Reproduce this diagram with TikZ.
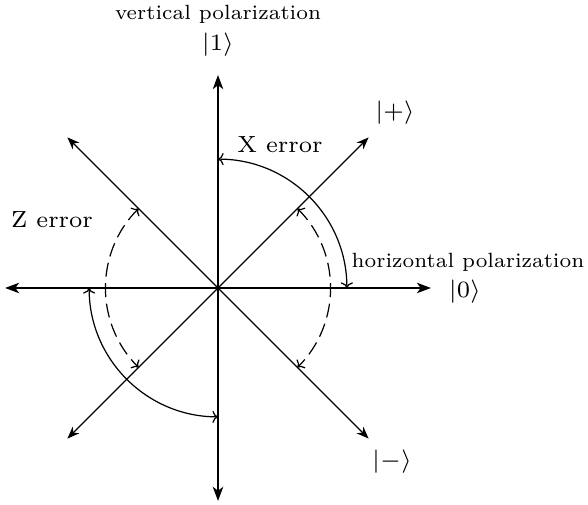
\documentclass[tikz,border=0pt]{standalone}
\usetikzlibrary{arrows.meta}
\begin{document}
\begin{tikzpicture}[
  axis/.style={line width=1.3pt, -{Stealth[length=7.5pt,width=5.5pt,inset=2pt]}},
  diag/.style={line width=0.7pt, -{Stealth[length=6.5pt,width=5pt,inset=2pt]}},
  turn/.style={line width=0.65pt, {To[length=3pt,width=6.5pt]}-{To[length=3pt,width=6.5pt]}},
  dturn/.style={turn, dash pattern=on 7.5pt off 3.5pt},
  lbl/.style={font=\scriptsize, scale=1.786, inner sep=0pt},
  pol/.style={font=\scriptsize, scale=1.57, inner sep=0pt}
]
\useasboundingbox (-4.094,-4.075) rectangle (6.948,5.408);
\coordinate (O) at (0,0);
\coordinate (R) at (0:4);
\coordinate (L) at (180:4);
\coordinate (U) at (90:4);
\coordinate (D) at (270:4);
\coordinate (UR) at (45:4);
\coordinate (UL) at (135:4);
\coordinate (DL) at (225:4);
\coordinate (DR) at (315:4);
% diagonals
\draw[diag] (O) -- (UR);
\draw[diag] (O) -- (UL);
\draw[diag] (O) -- (DL);
\draw[diag] (O) -- (DR);
% axes
\draw[axis] (O) -- (R);
\draw[axis] (O) -- (L);
\draw[axis] (O) -- (U);
\draw[axis] (O) -- (D);
% arcs
\coordinate (xa) at (90:2.42);
\coordinate (za) at (180:2.42);
\coordinate (dr) at (45:2.11);
\coordinate (dl) at (135:2.11);
\draw[turn] (xa) arc[start angle=90,end angle=0,radius=2.42];
\draw[turn] (za) arc[start angle=180,end angle=270,radius=2.42];
\draw[dturn] (dr) arc[start angle=45,end angle=-45,radius=2.11];
\draw[dturn] (dl) arc[start angle=135,end angle=225,radius=2.11];
% labels
\node[pol] (vp) at (0,5.146) {vertical polarization};
\node[lbl] (k1) at (0,4.563) {$|1\rangle$};
\node[lbl] (kp) at (3.324,3.286) {$|+\rangle$};
\node[lbl] (k0) at (4.638,-0.075) {$|0\rangle$};
\node[lbl] (km) at (3.268,-3.268) {$|-\rangle$};
\node[pol, anchor=west] (hp) at (2.50,0.488) {horizontal polarization};
\node[lbl] (xe) at (1.164,2.685) {X error};
\node[lbl] (ze) at (-3.117,1.277) {Z error};
\end{tikzpicture}
\end{document}
